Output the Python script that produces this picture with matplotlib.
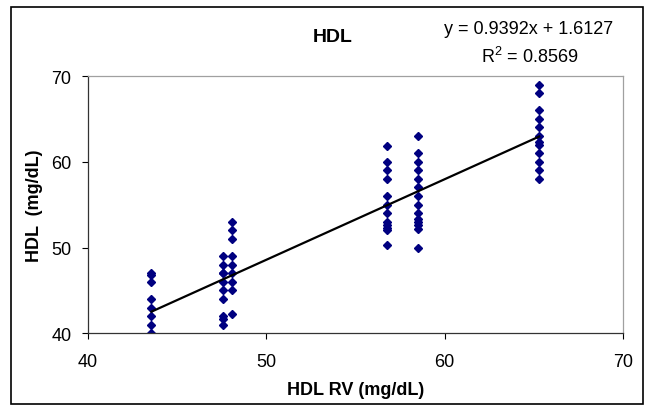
import numpy as np
from matplotlib import pyplot as plt
from matplotlib.patches import Rectangle

plt.rcParams['font.family'] = ['Liberation Sans', 'DejaVu Sans']

# HDL RV value of each column of points, and the HDL readings in that column
rv_levels = [43.56, 47.58, 48.1, 56.77, 58.53, 65.3]
hdl_values = [
    [47, 46.8, 46, 44, 43, 42, 41, 40],
    [49, 48, 47, 47, 46, 45, 44, 42, 41.7, 41],
    [53, 52, 51, 49, 48, 47, 46, 45, 42.2],
    [61.8, 60, 59, 58, 56, 55, 54, 53, 52.6, 52.3, 52, 50.3],
    [63, 61, 60, 59, 58, 57, 56, 55, 54, 53.3, 53, 52.6, 52.2, 50],
    [69, 68, 66, 65, 64, 63, 62.3, 62, 61, 60, 59, 58],
]
slope = 0.9392
intercept = 1.6127
r2 = 0.8569

x = []
y = []
for rv, vals in zip(rv_levels, hdl_values):
    x += [rv] * len(vals)
    y += vals
x = np.array(x)
y = np.array(y)

fig = plt.figure(figsize=(6.46, 4.10), dpi=100)
ax = fig.add_axes([88/646, 1 - 334.3/410, (623-88)/646, (334.3-77)/410])

ax.plot(x, y, linestyle='none', marker='D', markersize=3.7, color='#000080')
xl = np.array([x.min(), x.max()])
ax.plot(xl, slope*xl + intercept, color='black', linewidth=1.6)

ax.set_xlim(40, 70)
ax.set_ylim(40, 70)
ax.set_xticks([40, 50, 60, 70])
ax.set_yticks([40, 50, 60, 70])
ax.tick_params(axis='x', direction='out', length=4, width=0.8, pad=10, labelsize=13)
ax.tick_params(axis='y', direction='out', length=4, width=0.8, pad=8, labelsize=13)
for s in ['top', 'right']:
    ax.spines[s].set_color('#a0a0a0')
for s in ['left', 'bottom']:
    ax.spines[s].set_color('#333333')
for s in ax.spines.values():
    s.set_linewidth(0.9)

ax.set_xlabel('HDL RV (mg/dL)', fontsize=13, fontweight='bold', labelpad=8)
ax.set_ylabel('HDL  (mg/dL)', fontsize=13, fontweight='bold', labelpad=6)

fig.text(333/646, 1 - 37/410, 'HDL', ha='center', va='center', fontsize=14, fontweight='bold')
fig.text(529/646, 1 - 30/410, 'y = %.4fx + %.4f' % (slope, intercept),
         ha='center', va='center', fontsize=13)
fig.text(530/646, 1 - 57/410, '$\\mathregular{R^2}$ = %.4f' % r2,
         ha='center', va='center', fontsize=13)

fig.patches.append(Rectangle((11/646, 1 - 405/410), (643-11)/646, (405-8)/410,
                             transform=fig.transFigure, fill=False,
                             edgecolor='black', linewidth=1.2))

fig.savefig('out.png', dpi=100)
